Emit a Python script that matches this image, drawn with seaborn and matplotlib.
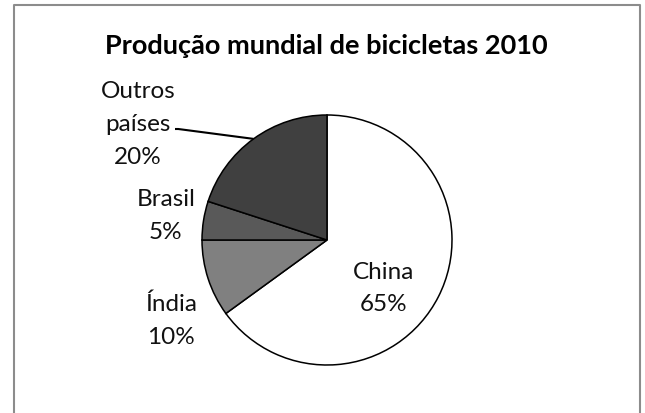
import numpy as np
import matplotlib.pyplot as plt
from matplotlib.lines import Line2D
import seaborn as sns

# data
paises = ['China', 'Índia', 'Brasil', 'Outros\npaíses']
percentuais = [65, 10, 5, 20]
cores = ['#ffffff', '#808080', '#595959', '#404040']
titulo = 'Produção mundial de bicicletas 2010'

sns.set_theme(style='white')
plt.rcParams['font.family'] = ['Lato', 'DejaVu Sans']

W, H = 645, 414
fig = plt.figure(figsize=(W / 100, H / 100), dpi=100)
ax = fig.add_axes([0, 0, 1, 1])

# pie centre (327, 241) px, radius 125 px
cx, cy, R = 327, 241, 125
wedges, _ = ax.pie(percentuais, colors=cores, startangle=90, counterclock=False,
                   radius=1, wedgeprops={'edgecolor': 'black', 'linewidth': 1.1})
ax.set_xlim(-cx / R, (W - cx) / R)
ax.set_ylim(-(H - cy) / R, cy / R)
ax.set_aspect('equal')
ax.axis('off')

# label positions (in pie radius units)
pos_labels = [(0.45, -0.38), (-1.25, -0.64), (-1.29, 0.20), (-1.51, 0.93)]
for nome, pct, (x, y) in zip(paises, percentuais, pos_labels):
    ax.text(x, y, f'{nome}\n{pct}%', ha='center', va='center',
            fontsize=17.5, linespacing=1.7, color='#111111')

# leader line for "Outros países"
w = wedges[3]
ang = np.deg2rad((w.theta1 + w.theta2) / 2)
ex, ey = np.cos(ang), np.sin(ang)
ax.plot([-1.216, -1.19, ex], [0.888, 0.888, ey], color='black', lw=1.5,
        solid_capstyle='butt')

fig.text(326 / W, 1 - 46 / H, titulo, ha='center', va='center',
         fontsize=19.5, fontweight='bold', color='black')

# light grey frame (open at the bottom)
borda = dict(color='#8c8c8c', lw=1.5, transform=fig.transFigure)
xl, xr, yt = 13.5 / W, 640 / W, 1 - 5.5 / H
fig.add_artist(Line2D([xl, xl, xr, xr], [0, yt, yt, 0], **borda))

fig.savefig('out.png', dpi=100, facecolor='white')
